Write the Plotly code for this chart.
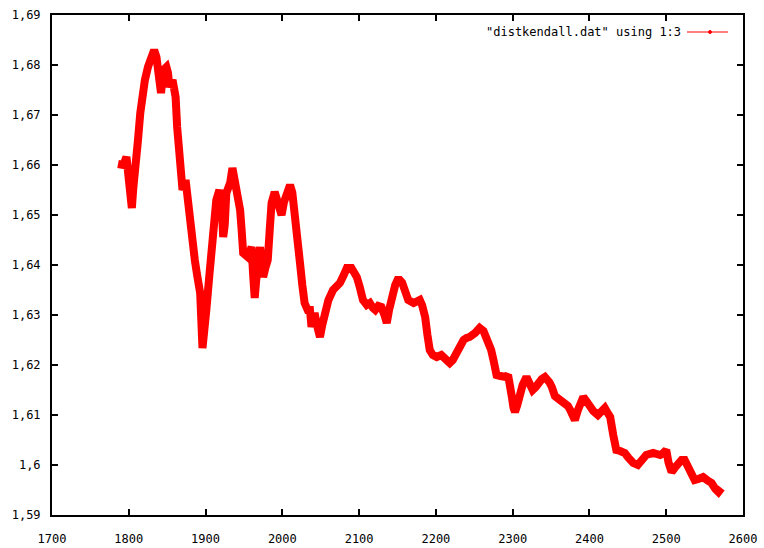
import plotly.graph_objects as go

x_vals = [1786, 1790, 1793, 1797, 1799, 1801, 1804, 1806, 1810, 1812, 1815, 1818, 1821, 1825, 1828, 1830,
          1833, 1836, 1838, 1840, 1842, 1845, 1849, 1851, 1853, 1857, 1861, 1863, 1866, 1868, 1870, 1874,
          1877, 1880, 1883, 1886, 1889, 1893, 1896, 1899, 1901, 1905, 1908, 1911, 1914, 1918, 1921, 1923,
          1925, 1927, 1932, 1935, 1938, 1940, 1945, 1947, 1949, 1955, 1960, 1962, 1964, 1966, 1968, 1971,
          1973, 1975, 1978, 1981, 1984, 1986, 1990, 1994, 1997, 1999, 2002, 2005, 2010, 2013, 2016, 2019,
          2023, 2026, 2029, 2033, 2036, 2038, 2042, 2045, 2049, 2052, 2055, 2060, 2066, 2075, 2080, 2084,
          2090, 2097, 2101, 2105, 2110, 2114, 2118, 2121, 2125, 2129, 2133, 2136, 2139, 2142, 2147, 2150,
          2153, 2156, 2160, 2164, 2171, 2175, 2179, 2182, 2186, 2189, 2192, 2196, 2201, 2207, 2212, 2218,
          2222, 2227, 2231, 2236, 2240, 2244, 2251, 2257, 2262, 2266, 2269, 2272, 2275, 2279, 2284, 2288,
          2291, 2294, 2297, 2299, 2301, 2303, 2306, 2309, 2313, 2318, 2322, 2326, 2330, 2333, 2338, 2342,
          2345, 2348, 2351, 2355, 2360, 2364, 2368, 2372, 2375, 2378, 2381, 2385, 2389, 2392, 2396, 2400,
          2405, 2411, 2415, 2420, 2423, 2427, 2431, 2435, 2440, 2446, 2451, 2457, 2463, 2468, 2474, 2483,
          2488, 2492, 2496, 2500, 2503, 2507, 2511, 2515, 2520, 2524, 2527, 2531, 2537, 2542, 2548, 2553,
          2559, 2564, 2568, 2572]

y_vals = [1.6602, 1.6600, 1.6600, 1.6616, 1.6576, 1.6540, 1.6514, 1.6556, 1.6604, 1.6650, 1.6704, 1.6750,
          1.6770, 1.6796, 1.6810, 1.6824, 1.6830, 1.6816, 1.6795, 1.6770, 1.6744, 1.6790, 1.6796, 1.6785,
          1.6756, 1.6770, 1.6736, 1.6676, 1.6616, 1.6570, 1.6550, 1.6570, 1.6530, 1.6460, 1.6440, 1.6410,
          1.6380, 1.6344, 1.6234, 1.6270, 1.6310, 1.6380, 1.6430, 1.6480, 1.6530, 1.6550, 1.6520, 1.6456,
          1.6480, 1.6544, 1.6564, 1.6594, 1.6570, 1.6544, 1.6510, 1.6470, 1.6424, 1.6416, 1.6436, 1.6380,
          1.6334, 1.6370, 1.6420, 1.6436, 1.6400, 1.6376, 1.6395, 1.6410, 1.6480, 1.6524, 1.6546, 1.6530,
          1.6510, 1.6500, 1.6525, 1.6544, 1.6560, 1.6545, 1.6510, 1.6450, 1.6404, 1.6360, 1.6324, 1.6310,
          1.6310, 1.6276, 1.6304, 1.6280, 1.6256, 1.6280, 1.6304, 1.6330, 1.6350, 1.6364, 1.6380, 1.6394,
          1.6394, 1.6376, 1.6355, 1.6330, 1.6320, 1.6324, 1.6314, 1.6310, 1.6318, 1.6316, 1.6300, 1.6284,
          1.6310, 1.6336, 1.6360, 1.6370, 1.6370, 1.6365, 1.6350, 1.6330, 1.6324, 1.6328, 1.6330, 1.6320,
          1.6296, 1.6260, 1.6230, 1.6220, 1.6216, 1.6220, 1.6212, 1.6204, 1.6210, 1.6224, 1.6238, 1.6250,
          1.6254, 1.6256, 1.6264, 1.6274, 1.6268, 1.6256, 1.6245, 1.6230, 1.6210, 1.6180, 1.6178, 1.6176,
          1.6176, 1.6180, 1.6160, 1.6136, 1.6115, 1.6106, 1.6120, 1.6144, 1.6160, 1.6176, 1.6165, 1.6150,
          1.6156, 1.6164, 1.6172, 1.6176, 1.6172, 1.6165, 1.6156, 1.6138, 1.6132, 1.6128, 1.6124, 1.6118,
          1.6110, 1.6098, 1.6090, 1.6110, 1.6130, 1.6136, 1.6128, 1.6116, 1.6108, 1.6100, 1.6106, 1.6114,
          1.6106, 1.6096, 1.6060, 1.6030, 1.6028, 1.6024, 1.6014, 1.6004, 1.6000, 1.6010, 1.6020, 1.6024,
          1.6022, 1.6020, 1.6024, 1.6030, 1.6005, 1.5986, 1.5994, 1.6004, 1.6010, 1.6010, 1.6000, 1.5986,
          1.5970, 1.5972, 1.5976, 1.5970, 1.5964, 1.5952, 1.5946, 1.5954]

x_ticks = [1700, 1800, 1900, 2000, 2100, 2200, 2300, 2400, 2500, 2600]
y_ticks = [1.59, 1.60, 1.61, 1.62, 1.63, 1.64, 1.65, 1.66, 1.67, 1.68, 1.69]
y_tick_text = ["1,59", "1,6", "1,61", "1,62", "1,63", "1,64", "1,65", "1,66", "1,67", "1,68", "1,69"]
series_name = '"distkendall.dat" using 1:3'

RED = "#ff0000"
TICKFONT = dict(family="DejaVu Sans Mono", size=12, color="#000000")

fig = go.Figure()
fig.add_trace(go.Scatter(
    x=x_vals, y=y_vals, mode="lines",
    line=dict(color=RED, width=8),
    name=series_name, showlegend=False, hoverinfo="x+y",
))

# gnuplot-style key: text then sample to its right
fig.add_annotation(
    xref="paper", yref="paper", x=(683 - 52) / 691, y=(515 - 32) / 500,
    xanchor="right", yanchor="middle", showarrow=False,
    text=series_name, font=dict(family="DejaVu Sans Mono", size=12, color="#000000"),
)
fig.add_shape(type="line", xref="paper", yref="paper",
              x0=(687 - 52) / 691, x1=(728 - 52) / 691,
              y0=(515 - 32) / 500, y1=(515 - 32) / 500,
              line=dict(color=RED, width=1))
fig.add_shape(type="circle", xref="paper", yref="paper",
              x0=(708.5 - 52) / 691, x1=(711.5 - 52) / 691,
              y0=(515 - 33.5) / 500, y1=(515 - 30.5) / 500,
              line=dict(color=RED, width=1), fillcolor=RED)

axis_common = dict(
    showgrid=False, zeroline=False, automargin=False,
    showline=True, linecolor="#000000", linewidth=2,
    mirror="ticks", ticks="inside", ticklen=6, tickwidth=2, tickcolor="#000000",
    tickfont=TICKFONT,
)

fig.update_layout(
    width=764, height=548,
    margin=dict(l=52, r=21, t=15, b=33, autoexpand=False),
    paper_bgcolor="#ffffff", plot_bgcolor="#ffffff",
    showlegend=False,
    xaxis=dict(range=[1700, 2600], tickvals=x_ticks, ticklabelstandoff=12, **axis_common),
    yaxis=dict(range=[1.59, 1.69], tickvals=y_ticks, ticktext=y_tick_text, ticklabelstandoff=7, **axis_common),
)

fig.write_html("out.html")
